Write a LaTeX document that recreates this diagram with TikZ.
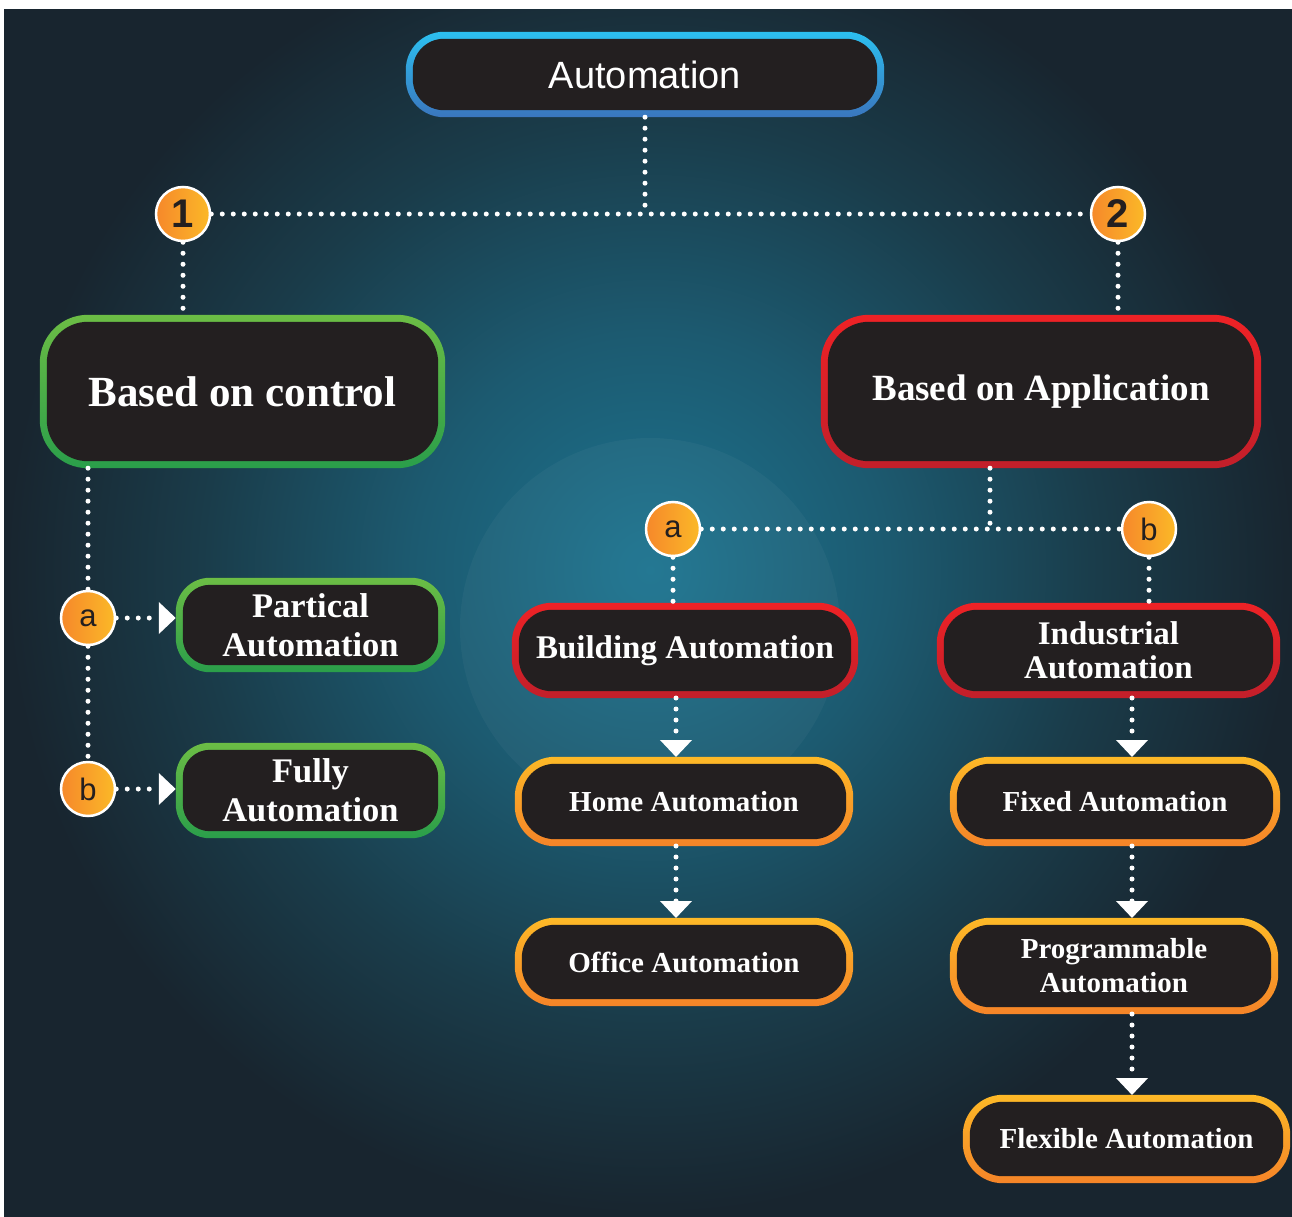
\documentclass[tikz,border=0pt]{standalone}
\usepackage{fontspec}
\setmainfont{Liberation Serif}
\newfontfamily\sansf{Liberation Sans}
\usetikzlibrary{calc,arrows.meta}
\pgfdeclarelayer{bgzero}
\pgfdeclarelayer{background}
\pgfsetlayers{bgzero,background,main}
\definecolor{boxfill}{HTML}{231F20}
\definecolor{bgdark}{HTML}{18252F}
\definecolor{glowA}{HTML}{1D7490}
\definecolor{glowB}{HTML}{1C5A70}
\definecolor{glowC}{HTML}{1A3C4A}
\definecolor{blueT}{HTML}{2CC0F0}
\definecolor{blueB}{HTML}{3A76BE}
\definecolor{greenT}{HTML}{6CBD45}
\definecolor{greenB}{HTML}{2A9E4A}
\definecolor{redT}{HTML}{EE2226}
\definecolor{redB}{HTML}{C21F2A}
\definecolor{orangeT}{HTML}{FDB927}
\definecolor{orangeB}{HTML}{F58428}
\definecolor{badgeL}{HTML}{F6882A}
\definecolor{badgeR}{HTML}{FBB928}
\pgfdeclareradialshading{bgglow}{\pgfpoint{0bp}{0bp}}{color(0bp)=(glowA); color(8.5bp)=(glowB); color(16bp)=(glowC); color(23bp)=(bgdark); color(25bp)=(bgdark); color(50bp)=(bgdark)}
\tikzset{
  box/.style={rectangle, inner sep=0pt, text=white, align=center, font=\bfseries},
  badge/.style={circle, minimum size=54pt, inner sep=0pt, left color=badgeL, right color=badgeR, draw=white, line width=2.5pt, text=boxfill},
  digit/.style={badge, font=\sansf\bfseries\fontsize{40}{40}\selectfont},
  letter/.style={badge, font=\sansf\fontsize{31}{31}\selectfont},
  dots/.style={white, line width=5pt, line cap=round, dash pattern=on 0pt off 11pt},
  arr/.style={dots, -{Triangle[width=31pt,length=17pt]}}
}
\begin{document}
\begin{tikzpicture}[x=1pt,y=-1pt]
\useasboundingbox (0,0) rectangle (1292,1217);
\begin{pgfonlayer}{bgzero}
  \fill[bgdark] (4,9) rectangle (1292,1217);
  \begin{scope}
    \clip (4,9) rectangle (1292,1217);
    \shade[shading=bgglow] (650,570) circle (700);
    \fill[white, opacity=0.035] (650,628) circle (190);
  \end{scope}
  \fill[white] (0,0) rectangle (1292,9);
  \fill[white] (0,0) rectangle (4,1217);
\end{pgfonlayer}

% boxes
\node[box, minimum width=478pt, minimum height=85pt, font=\sansf\fontsize{38}{40}\selectfont] (auto) at (645,74.5) {Automation};
\node[box, minimum width=405pt, minimum height=153pt, font=\bfseries\fontsize{43}{46}\selectfont] (ctrl) at (242.5,391.5) {Based on control};
\node[box, minimum width=440pt, minimum height=153pt, font=\bfseries\fontsize{37}{40}\selectfont] (app) at (1041,391.5) {Based on Application};
\node[box, minimum width=269pt, minimum height=94pt, font=\bfseries\fontsize{34.5}{39}\selectfont] (part) at (310.5,625) {Partical\\Automation};
\node[box, minimum width=269pt, minimum height=95pt, font=\bfseries\fontsize{34.5}{39}\selectfont] (full) at (310.5,790.5) {Fully\\Automation};
\node[box, minimum width=346pt, minimum height=95pt, font=\bfseries\fontsize{33}{36}\selectfont] (build) at (685,650.5) {Building Automation};
\node[box, minimum width=338pt, minimum height=89pt, font=\bfseries\fontsize{29}{34}\selectfont] (home) at (684,801.5) {Home Automation};
\node[box, minimum width=338pt, minimum height=88pt, font=\bfseries\fontsize{29}{34}\selectfont] (office) at (684,962) {Office Automation};
\node[box, minimum width=343pt, minimum height=95pt, font=\bfseries\fontsize{33}{34}\selectfont] (indus) at (1108.5,650.5) {Industrial\\Automation};
\node[box, minimum width=330pt, minimum height=89pt, font=\bfseries\fontsize{29}{34}\selectfont] (fixed) at (1115,801.5) {Fixed Automation};
\node[box, minimum width=328pt, minimum height=96pt, font=\bfseries\fontsize{29}{34}\selectfont] (prog) at (1114,966) {Programmable\\Automation};
\node[box, minimum width=327pt, minimum height=88pt, font=\bfseries\fontsize{29}{34}\selectfont] (flex) at (1126.5,1139) {Flexible Automation};

\begin{pgfonlayer}{background}
\foreach \n/\tc/\bc/\r in {auto/blueT/blueB/38, ctrl/greenT/greenB/48, app/redT/redB/48,
  part/greenT/greenB/34, full/greenT/greenB/34, build/redT/redB/40, indus/redT/redB/40,
  home/orangeT/orangeB/40, office/orangeT/orangeB/40, fixed/orangeT/orangeB/40,
  prog/orangeT/orangeB/40, flex/orangeT/orangeB/40}{
  \pgfmathsetmacro\ri{\r-7}
  \shade[top color=\tc, bottom color=\bc, rounded corners=\r pt] (\n.south west) rectangle (\n.north east);
  \fill[boxfill, rounded corners=\ri pt] ([shift={(7pt,7pt)}]\n.south west) rectangle ([shift={(-7pt,-7pt)}]\n.north east);
}
\end{pgfonlayer}

% badges
\node[digit] (c1) at (183,214) {1};
\node[digit] (c2) at (1118,214) {2};
\node[letter] (la) at (88,618) {a};
\node[letter] (lb) at (88,789) {b};
\node[letter] (ra) at (673,529) {a};
\node[letter] (rb) at (1149,529) {b};
\coordinate (j1) at (645,215);
\coordinate (j2) at (990,529);

% connectors
\draw[dots] (auto.south) -- (j1);
\draw[dots] (c1) -- (c2);
\draw[dots] (c1) -- (c1 |- ctrl.north);
\draw[dots] (c2) -- (c2 |- app.north);
\draw[dots] (la |- ctrl.south) -- (la);
\draw[dots] (la) -- (lb);
\draw[arr] (la) -- (la -| part.west);
\draw[arr] (lb) -- (lb -| full.west);
\draw[dots] (j2 |- app.south) -- (j2);
\draw[dots] (ra) -- (rb);
\draw[dots] (ra) -- (ra |- build.north);
\draw[dots] (rb) -- (rb |- indus.north);
\draw[arr] (676,698) -- (676,757);
\draw[arr] (676,846) -- (676,918);
\draw[arr] (1132,698) -- (1132,757);
\draw[arr] (1132,846) -- (1132,918);
\draw[arr] (1132,1014) -- (1132,1095);
\end{tikzpicture}
\end{document}
